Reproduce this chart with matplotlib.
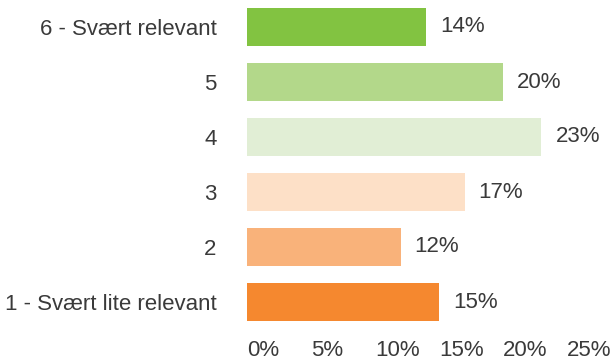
import matplotlib
matplotlib.use("Agg")
import matplotlib.pyplot as plt

plt.rcParams["font.family"] = ["Liberation Sans", "DejaVu Sans"]

categories = ["1 - Svært lite relevant", "2", "3", "4", "5", "6 - Svært relevant"]
shares = [15, 12, 17, 23, 20, 14]
colors = [
    "#F5882F",  # 1
    "#F9B27A",  # 2
    "#FDE0C7",  # 3
    "#E1EED5",  # 4
    "#B3D88A",  # 5
    "#82C341",  # 6
]
ticks = [0, 5, 10, 15, 20, 25]
text_color = "#3a3a3a"

W, H = 611, 363
fig = plt.figure(figsize=(W / 100, H / 100), dpi=100)
ax = fig.add_axes([247 / W, 33 / H, 1 - 247 / W, 330 / H])

ypos = list(range(len(categories)))
ax.barh(ypos, shares, height=38 / 55, color=colors, edgecolor="none")

for y, v in zip(ypos, shares):
    ax.annotate(f"{v}%", (v, y), xytext=(14, 0), textcoords="offset pixels",
                ha="left", va="center", fontsize=16, color=text_color)

ax.set_xlim(0, (W - 247) / 12.8)
ax.set_ylim(-28 / 55, 5 + 27 / 55)

ax.set_yticks(ypos)
ax.set_yticklabels(categories, fontsize=16, color=text_color)
ax.set_xticks(ticks)
ax.set_xticklabels([f"{t}%" for t in ticks], fontsize=16, color=text_color, ha="left")
ax.tick_params(axis="y", length=0, pad=22)
ax.tick_params(axis="x", length=0, pad=7)

for s in ax.spines.values():
    s.set_visible(False)

fig.savefig("out.png", dpi=100)
